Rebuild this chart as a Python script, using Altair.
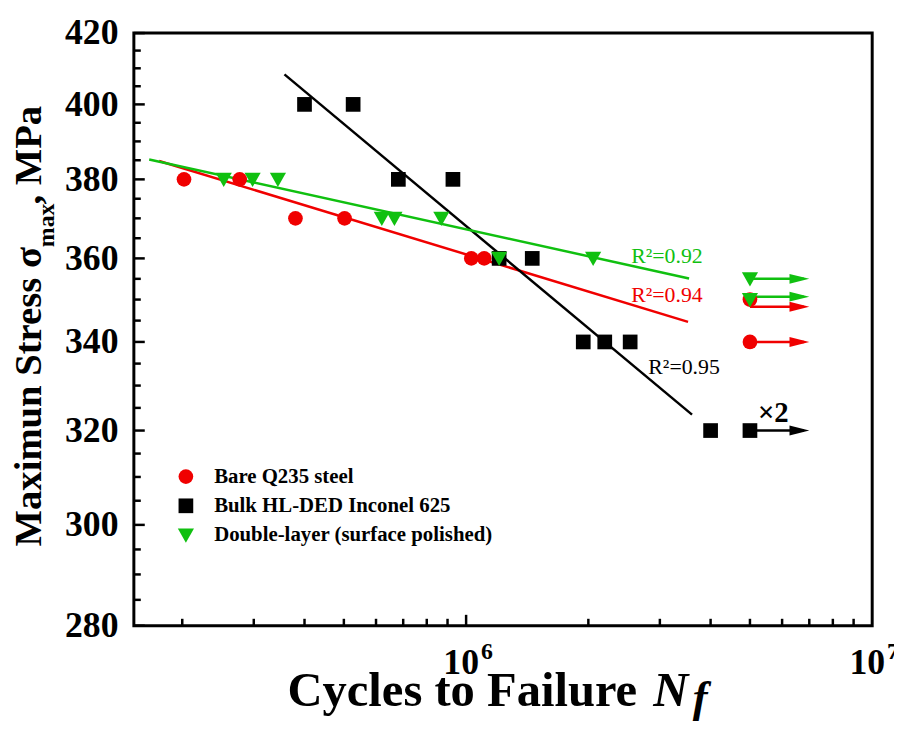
import altair as alt
import pandas as pd

FONT = "Liberation Serif"

SERIES = ["Bare Q235 steel", "Bulk HL-DED Inconel 625", "Double-layer (surface polished)"]
COLORS = ["#F00000", "#000000", "#10C010"]
SHAPES = ["circle", "square", "M-1.1,-0.9L1.1,-0.9L0,1.05Z"]

# measured points (cycles, stress MPa)
bare_n = [2.02e5, 2.77e5, 3.80e5, 5.02e5, 1.03e6, 1.108e6, 5.0e6, 5.0e6]
bare_s = [380, 380, 370, 370, 360, 360, 350, 340]
bulk_n = [4.0e5, 5.27e5, 6.81e5, 9.28e5, 1.206e6, 1.455e6, 1.943e6, 2.195e6, 2.535e6, 4.0e6, 5.0e6]
bulk_s = [400, 400, 380, 380, 360, 360, 340, 340, 340, 320, 320]
dbl_n = [2.53e5, 2.98e5, 3.44e5, 6.2e5, 6.66e5, 8.69e5, 1.206e6, 2.055e6, 5.0e6, 5.0e6]
dbl_s = [380, 380, 380, 370, 370, 370, 360, 360, 355, 350]

# fitted lines (endpoints)
fit_n = [[1.754e5, 3.52e6], [3.57e5, 3.6e6], [1.658e5, 3.54e6]]
fit_s = [[384.8, 344.7], [408.3, 323.5], [385.2, 355.1]]

# R^2 labels
r2_text = ["R²=0.94", "R²=0.95", "R²=0.92"]
r2_n = [2.55e6, 2.81e6, 2.55e6]
r2_s = [349.3, 332.6, 358.9]

# run-out arrows
arrow_series = [0, 0, 1, 2, 2]
arrow_from = [5.0e6, 5.0e6, 5.0e6, 5.0e6, 5.0e6]
arrow_to = [7.0e6, 7.0e6, 7.0e6, 7.0e6, 7.0e6]
arrow_s = [348.3, 340, 320, 355, 350.7]
runout_note = ["×2"]
runout_note_n = [5.0e6]
runout_note_s = [320]

Y_MAJOR = [280, 300, 320, 340, 360, 380, 400, 420]
Y_MINOR = [v for v in range(285, 420, 5) if v % 20 != 0]
X_MAJOR = [1e6]
X_MINOR = [k * 1e5 for k in range(2, 10)] + [k * 1e6 for k in range(2, 10)]
X_LABEL_POS = [1e6, 1e7]
X_LABEL_BASE = ["10", "10"]
X_LABEL_EXP = ["6", "7"]

x_scale = alt.Scale(type="log", domain=[1.52e5, 1.0e7], nice=False)
y_scale = alt.Scale(type="log", domain=[280, 420], nice=False)
y_axis = alt.Axis(values=Y_MAJOR, format="d", title=None, labelFont=FONT, labelFontSize=36,
                  labelFontWeight="bold", labelColor="black", ticks=False, tickSize=0,
                  domain=False, grid=False, labelPadding=16)


def X(f="n"):
    return alt.X(f"{f}:Q", scale=x_scale, axis=None)


def Y(f="s"):
    return alt.Y(f"{f}:Q", scale=y_scale, axis=y_axis)


layers = []

# ticks (inward)
ymaj = pd.DataFrame({"s": Y_MAJOR})
ymin = pd.DataFrame({"s": Y_MINOR})
layers.append(alt.Chart(ymaj).mark_rule(color="black", strokeWidth=2.5).encode(
    x=alt.value(0), x2=alt.value(11), y=Y()))
layers.append(alt.Chart(ymin).mark_rule(color="black", strokeWidth=2.5).encode(
    x=alt.value(0), x2=alt.value(7), y=Y()))
xmaj = pd.DataFrame({"n": X_MAJOR})
xmin = pd.DataFrame({"n": X_MINOR})
layers.append(alt.Chart(xmaj).mark_rule(color="black", strokeWidth=2.5).encode(
    x=X(), y=alt.value(598), y2=alt.value(587)))
layers.append(alt.Chart(xmin).mark_rule(color="black", strokeWidth=2.5).encode(
    x=X(), y=alt.value(598), y2=alt.value(591)))

# x tick labels 10^6, 10^7
xl = pd.DataFrame({"n": X_LABEL_POS, "base": X_LABEL_BASE, "exp": X_LABEL_EXP})
layers.append(alt.Chart(xl).mark_text(font=FONT, fontSize=36, fontWeight="bold", align="right",
                                      baseline="alphabetic", dx=13, color="black").encode(
    x=X(), y=alt.value(647), text="base:N"))
layers.append(alt.Chart(xl).mark_text(font=FONT, fontSize=24, fontWeight="bold", align="left",
                                      baseline="alphabetic", dx=15, color="black").encode(
    x=X(), y=alt.value(632), text="exp:N"))

# fit lines
for i in range(3):
    d = pd.DataFrame({"n": fit_n[i], "s": fit_s[i]})
    layers.append(alt.Chart(d).mark_line(color=COLORS[i], strokeWidth=2.5).encode(x=X(), y=Y()))

# R^2 labels
for i in range(3):
    d = pd.DataFrame({"n": [r2_n[i]], "s": [r2_s[i]], "t": [r2_text[i]]})
    layers.append(alt.Chart(d).mark_text(font=FONT, fontSize=22, align="left", baseline="alphabetic",
                                         color=COLORS[i]).encode(x=X(), y=Y(), text="t:N"))

# arrows
ARROW = "M0,0L-1,-0.25L-1,0.25Z"
for k in range(len(arrow_s)):
    i = arrow_series[k]
    d = pd.DataFrame({"n": [arrow_from[k]], "n2": [arrow_to[k]], "s": [arrow_s[k]]})
    layers.append(alt.Chart(d).transform_calculate(n3="datum.n2 * 0.97").mark_rule(
        color=COLORS[i], strokeWidth=2.5).encode(x=X(), x2="n3:Q", y=Y()))
    layers.append(alt.Chart(d).mark_point(shape=ARROW, filled=True, opacity=1, size=1600,
                                          color=COLORS[i], strokeWidth=0).encode(x=X("n2"), y=Y()))

# points
pts = pd.DataFrame({
    "series": [SERIES[0]] * len(bare_n) + [SERIES[1]] * len(bulk_n) + [SERIES[2]] * len(dbl_n),
    "n": bare_n + bulk_n + dbl_n,
    "s": bare_s + bulk_s + dbl_s,
})
leg = alt.Legend(orient="none", legendX=42, legendY=437, title=None, labelFont=FONT,
                 labelFontSize=21, labelFontWeight="bold", labelColor="black", symbolSize=220,
                 symbolStrokeWidth=0, labelOffset=18, rowPadding=7.5, padding=0, labelLimit=0)
layers.append(alt.Chart(pts).mark_point(filled=True, opacity=1, size=220, strokeWidth=0).encode(
    x=X(), y=Y(),
    color=alt.Color("series:N", scale=alt.Scale(domain=SERIES, range=COLORS), legend=leg),
    shape=alt.Shape("series:N", scale=alt.Scale(domain=SERIES, range=SHAPES), legend=leg),
))

# x2 note
d = pd.DataFrame({"n": runout_note_n, "s": runout_note_s, "t": runout_note})
layers.append(alt.Chart(d).mark_text(font=FONT, fontSize=29, fontWeight="bold", align="left",
                                     baseline="alphabetic", dx=8, dy=-9, color="black").encode(
    x=X(), y=Y(), text="t:N"))

# axis titles (pieces)
def label(text, x, y, size, weight="bold", style="normal", angle=0):
    d = pd.DataFrame({"t": [text]})
    return alt.Chart(d).mark_text(font=FONT, fontSize=size, fontWeight=weight, fontStyle=style,
                                  align="left", baseline="alphabetic", angle=angle,
                                  color="black").encode(x=alt.value(x), y=alt.value(y), text="t:N")


layers.append(label("Cycles to Failure", 155, 679, 49))
layers.append(label("N", 524, 679, 49, style="italic"))
layers.append(label("f", 564, 685, 45, style="italic"))
layers.append(label("Maximun Stress σ", -94, 518, 39, angle=270))
layers.append(label("max", -81, 216, 24, angle=270))
layers.append(label(", MPa", -94, 173, 39, angle=270))

chart = alt.layer(*layers).properties(
    width=745, height=598,
    padding={"left": 127, "top": 22, "right": 22, "bottom": 112},
    autosize=alt.AutoSizeParams(type="none"),
    background="white",
).configure_view(stroke="black", strokeWidth=3)

chart.save("out.html", embed_options={"renderer": "svg", "actions": False})
